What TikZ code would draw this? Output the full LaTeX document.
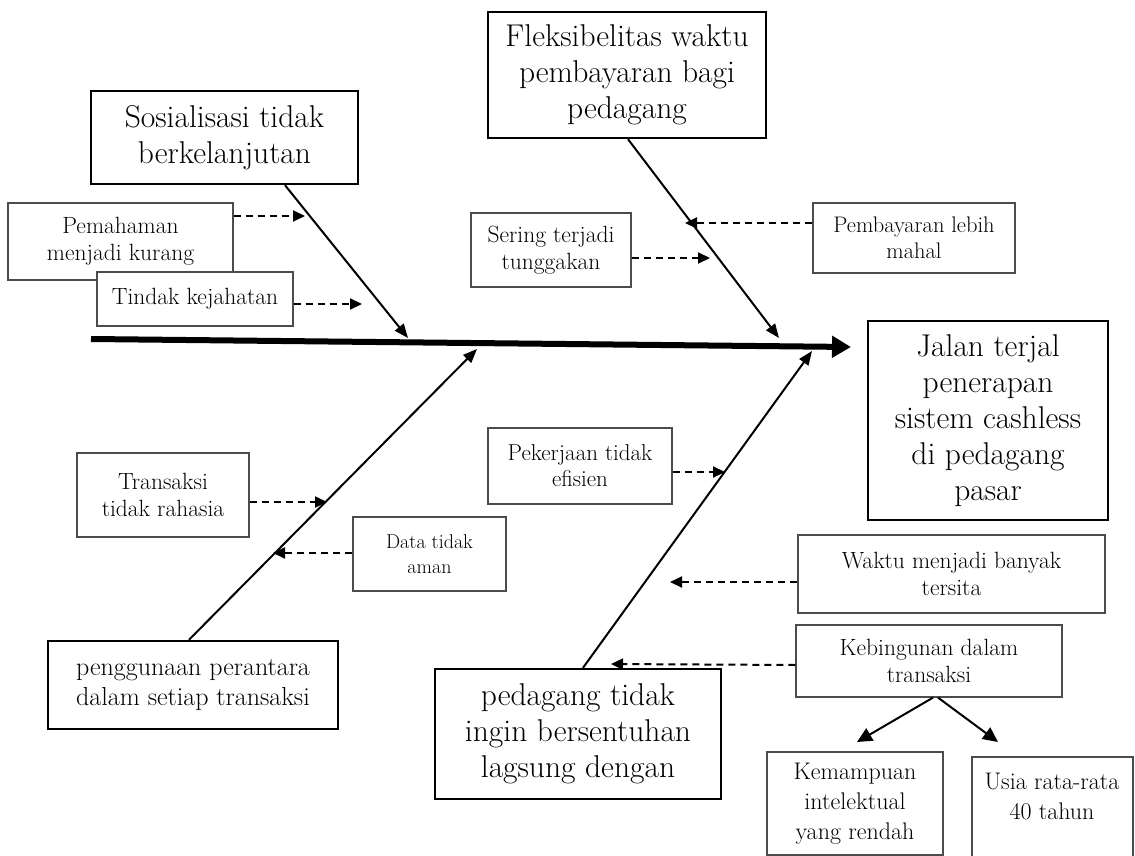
\documentclass[tikz,border=0pt]{standalone}
\usetikzlibrary{arrows.meta}
\begin{document}
\begin{tikzpicture}[x=1pt,y=-1pt,
  bigbox/.style={draw=black, line width=2.4pt, fill=white, align=center, inner sep=0pt, font=\fontsize{31.5}{36}\selectfont},
  smallbox/.style={draw=black!70, line width=1.2pt, fill=white, align=center, inner sep=0pt, font=\fontsize{23.5}{27}\selectfont},
  branch/.style={line width=2pt, -{Triangle[length=14pt,width=11pt]}},
  dasharrow/.style={line width=2pt, dash pattern=on 7pt off 5pt, -{Triangle[length=12pt,width=11pt]}},
  spineline/.style={line width=6pt, -{Triangle[length=19pt,width=21pt]}},
  solidarrow/.style={line width=2pt, -{Triangle[length=15pt,width=14pt]}}]
\clip (0,0) rectangle (1135,856);
\fill[white] (0,0) rectangle (1135,856);

% main boxes
\node[bigbox, minimum width=267pt, minimum height=93pt] (soc) at (224.5,137.5) {Sosialisasi tidak\\berkelanjutan};
\node[bigbox, minimum width=278pt, minimum height=126pt] (flx) at (627,75) {Fleksibelitas waktu\\pembayaran bagi\\pedagang};
\node[bigbox, minimum width=240pt, minimum height=199pt] (jal) at (988,420.5) {Jalan terjal\\penerapan\\sistem cashless\\di pedagang\\pasar};
\node[bigbox, minimum width=290pt, minimum height=88pt, font=\fontsize{26}{30}\selectfont] (pgn) at (193,685) {penggunaan perantara\\dalam setiap transaksi};
\node[bigbox, minimum width=286pt, minimum height=130pt] (pdg) at (578,734) {pedagang tidak\\ingin bersentuhan\\lagsung dengan};

% small boxes
\node[smallbox, minimum width=225pt, minimum height=77pt] (pem) at (120.5,241.5) {Pemahaman\\menjadi kurang};
\node[smallbox, minimum width=196pt, minimum height=54pt] (tin) at (195,299) {Tindak kejahatan};
\node[smallbox, minimum width=160pt, minimum height=74pt] (ser) at (551,250) {Sering terjadi\\tunggakan};
\node[smallbox, minimum width=202pt, minimum height=70pt, font=\fontsize{22.5}{26}\selectfont] (pby) at (914,238) {Pembayaran lebih\\mahal};
\node[smallbox, minimum width=172pt, minimum height=84pt] (trs) at (163,495) {Transaksi\\tidak rahasia};
\node[smallbox, minimum width=153pt, minimum height=74pt, font=\fontsize{20}{25}\selectfont] (dat) at (429.5,554) {Data tidak\\aman};
\node[smallbox, minimum width=184pt, minimum height=76pt, font=\fontsize{23}{26}\selectfont] (pek) at (580,466) {Pekerjaan tidak\\efisien};
\node[smallbox, minimum width=307pt, minimum height=78pt] (wkt) at (951.5,574) {Waktu menjadi banyak\\tersita};
\node[smallbox, minimum width=266pt, minimum height=72pt] (keb) at (929,661) {Kebingunan dalam\\transaksi};
\node[smallbox, minimum width=176pt, minimum height=103pt, font=\fontsize{24}{30}\selectfont] (kem) at (855,803.5) {Kemampuan\\intelektual\\yang rendah};
\node[align=center, inner sep=0pt, font=\fontsize{24}{30}\selectfont] (usi) at (1052,796) {Usia rata-rata\\40 tahun};
\draw[draw=black!70, line width=1.2pt] (972,880) |- (1133,757) -- (1133,880);

% spine and branches
\coordinate (sp0) at (91,339);
\coordinate (sp1) at (851,347);
\draw[spineline] (sp0) -- (sp1);
\coordinate (tsoc) at (408,338);
\coordinate (tflx) at (779,338);
\coordinate (tpgn) at (477,349);
\coordinate (tpdg) at (812,351);
\draw[branch] ([xshift=60.5pt]soc.south) -- (tsoc);
\draw[branch] ([xshift=1pt]flx.south) -- (tflx);
\draw[branch] ([xshift=-4pt]pgn.north) -- (tpgn);
\draw[branch] ([xshift=5pt]pdg.north) -- (tpdg);

% dashed sub-causes
\coordinate (apem) at (305,216);
\coordinate (atin) at (362,304);
\coordinate (aser) at (710,258);
\coordinate (apby) at (685,223);
\coordinate (atrs) at (327,502);
\coordinate (adat) at (273,553);
\coordinate (apek) at (725,472);
\coordinate (awkt) at (670,582);
\coordinate (akeb) at (611,664);
\draw[dasharrow] ([yshift=25.5pt]pem.east) -- (apem);
\draw[dasharrow] ([yshift=-5pt]tin.east) -- (atin);
\draw[dasharrow] ([yshift=-8pt]ser.east) -- (aser);
\draw[dasharrow] ([yshift=15pt]pby.west) -- (apby);
\draw[dasharrow] ([yshift=-7pt]trs.east) -- (atrs);
\draw[dasharrow] ([yshift=1pt]dat.west) -- (adat);
\draw[dasharrow] ([yshift=-6pt]pek.east) -- (apek);
\draw[dasharrow] ([yshift=-8pt]wkt.west) -- (awkt);
\draw[dasharrow] ([yshift=-4pt]keb.west) -- (akeb);

% kebingunan arrows
\coordinate (akem) at (857,742);
\coordinate (ausi) at (998,742);
\draw[solidarrow] ([xshift=4pt]keb.south) -- (akem);
\draw[solidarrow] ([xshift=9pt]keb.south) -- (ausi);
\end{tikzpicture}
\end{document}
